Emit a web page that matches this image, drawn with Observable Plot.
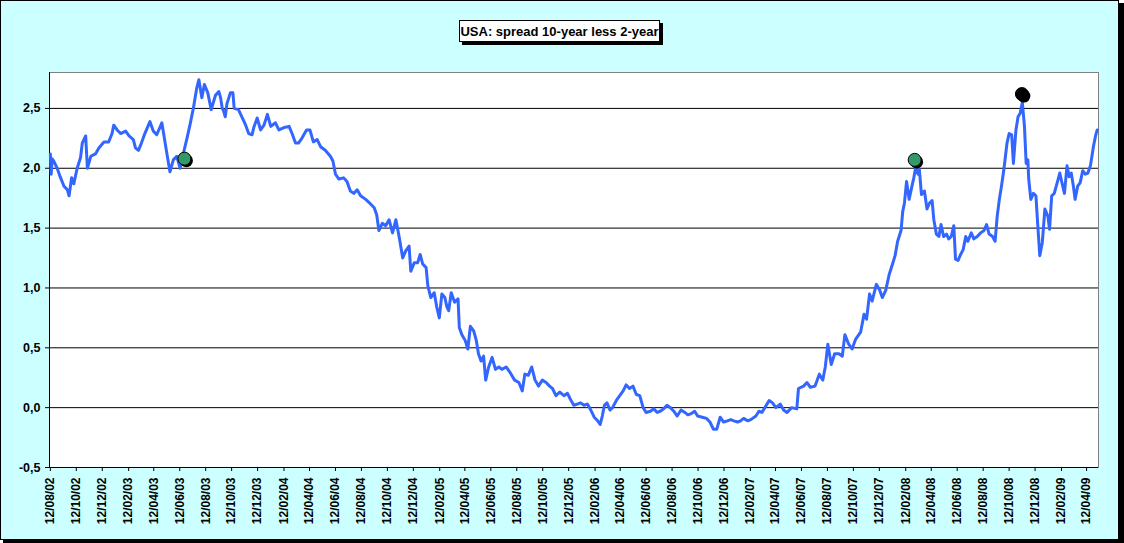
<!DOCTYPE html>
<html><head><meta charset="utf-8">
<script src="https://cdn.jsdelivr.net/npm/d3@7"></script>
<script src="https://cdn.jsdelivr.net/npm/@observablehq/plot@0.6"></script>
<style>html,body{margin:0;padding:0;background:#fff;} #chart{width:1124px;height:543px;overflow:hidden;}</style>
</head><body><div id="chart"></div>
<script>
const title = "USA: spread 10-year less 2-year";

const dates = [
"2002-08-12","2002-08-14","2002-08-16","2002-08-20","2002-08-28","2002-09-04","2002-09-13","2002-09-21","2002-09-25","2002-10-01",
"2002-10-06","2002-10-14","2002-10-22","2002-10-26","2002-11-03","2002-11-07","2002-11-15","2002-11-26","2002-12-04","2002-12-16",
"2002-12-27","2003-01-04","2003-01-08","2003-01-16","2003-01-24","2003-02-05","2003-02-13","2003-02-23","2003-02-28","2003-03-07",
"2003-03-14","2003-03-22","2003-04-03","2003-04-11","2003-04-19","2003-05-01","2003-05-07","2003-05-12","2003-05-20","2003-05-28",
"2003-06-05","2003-06-13","2003-06-21","2003-06-29","2003-07-06","2003-07-14","2003-07-22","2003-07-27","2003-08-03","2003-08-09",
"2003-08-17","2003-08-25","2003-09-04","2003-09-12","2003-09-16","2003-09-20","2003-09-23","2003-09-27","2003-10-01","2003-10-09",
"2003-10-15","2003-10-18","2003-10-28","2003-11-05","2003-11-14","2003-11-21","2003-11-29","2003-12-03","2003-12-11","2003-12-19",
"2003-12-27","2004-01-04","2004-01-12","2004-01-23","2004-01-31","2004-02-12","2004-02-24","2004-03-02","2004-03-10","2004-03-17",
"2004-03-25","2004-04-05","2004-04-13","2004-04-21","2004-04-30","2004-05-08","2004-05-19","2004-05-31","2004-06-06","2004-06-12",
"2004-06-20","2004-07-01","2004-07-09","2004-07-17","2004-07-25","2004-08-02","2004-08-10","2004-08-22","2004-09-03","2004-09-11",
"2004-09-17","2004-09-22","2004-09-30","2004-10-08","2004-10-16","2004-10-24","2004-11-01","2004-11-09","2004-11-17","2004-11-24",
"2004-12-02","2004-12-06","2004-12-14","2004-12-22","2004-12-28","2005-01-03","2005-01-11","2005-01-15","2005-01-22","2005-01-30",
"2005-02-05","2005-02-11","2005-02-17","2005-02-24","2005-03-01","2005-03-05","2005-03-11","2005-03-19","2005-03-27","2005-03-30",
"2005-04-05","2005-04-13","2005-04-19","2005-04-25","2005-05-03","2005-05-09","2005-05-14","2005-05-20","2005-05-26","2005-05-31",
"2005-06-07","2005-06-15","2005-06-23","2005-07-01","2005-07-08","2005-07-18","2005-07-28","2005-08-07","2005-08-17","2005-08-25",
"2005-08-31","2005-09-08","2005-09-16","2005-09-24","2005-10-02","2005-10-11","2005-10-20","2005-10-28","2005-11-04","2005-11-12",
"2005-11-21","2005-12-01","2005-12-09","2005-12-16","2005-12-24","2006-01-01","2006-01-09","2006-01-17","2006-01-25","2006-02-02",
"2006-02-10","2006-02-18","2006-02-24","2006-03-01","2006-03-06","2006-03-12","2006-03-19","2006-03-25","2006-04-03","2006-04-11",
"2006-04-19","2006-04-26","2006-05-04","2006-05-12","2006-05-20","2006-05-28","2006-06-05","2006-06-12","2006-06-22","2006-06-30",
"2006-07-08","2006-07-15","2006-07-23","2006-07-31","2006-08-08","2006-08-16","2006-08-24","2006-09-02","2006-09-11","2006-09-18",
"2006-09-26","2006-10-04","2006-10-11","2006-10-22","2006-11-01","2006-11-09","2006-11-17","2006-11-25","2006-12-03","2006-12-11",
"2006-12-20","2006-12-28","2007-01-04","2007-01-13","2007-01-20","2007-01-27","2007-02-06","2007-02-13","2007-02-25","2007-03-04",
"2007-03-11","2007-03-18","2007-03-28","2007-04-05","2007-04-13","2007-04-23","2007-05-01","2007-05-09","2007-05-20","2007-06-01",
"2007-06-05","2007-06-17","2007-06-25","2007-07-03","2007-07-14","2007-07-24","2007-08-01","2007-08-07","2007-08-13","2007-08-21",
"2007-08-29","2007-09-08","2007-09-16","2007-09-22","2007-10-01","2007-10-09","2007-10-17","2007-10-29","2007-11-06","2007-11-12",
"2007-11-19","2007-11-25","2007-12-05","2007-12-13","2007-12-19","2007-12-27","2008-01-04","2008-01-12","2008-01-18","2008-01-24",
"2008-02-01","2008-02-05","2008-02-09","2008-02-14","2008-02-20","2008-02-26","2008-03-02","2008-03-06","2008-03-12","2008-03-15",
"2008-03-20","2008-03-27","2008-04-02","2008-04-08","2008-04-14","2008-04-18","2008-04-24","2008-04-30","2008-05-05","2008-05-11",
"2008-05-18","2008-05-23","2008-05-29","2008-06-04","2008-06-08","2008-06-14","2008-06-20","2008-06-26","2008-07-02","2008-07-07",
"2008-07-15","2008-07-21","2008-07-29","2008-08-06","2008-08-14","2008-08-20","2008-08-26","2008-09-03","2008-09-09","2008-09-14",
"2008-09-19","2008-09-24","2008-09-30","2008-10-07","2008-10-12","2008-10-18","2008-10-22","2008-10-28","2008-11-02","2008-11-07",
"2008-11-12","2008-11-17","2008-11-21","2008-11-25","2008-11-27","2008-12-02","2008-12-08","2008-12-14","2008-12-18","2008-12-23",
"2008-12-29","2009-01-04","2009-01-11","2009-01-15","2009-01-20","2009-01-26","2009-02-02","2009-02-08","2009-02-13","2009-02-19",
"2009-02-25","2009-03-02","2009-03-07","2009-03-12","2009-03-16","2009-03-22","2009-03-28","2009-04-03","2009-04-09","2009-04-15",
"2009-04-21","2009-04-28","2009-05-03","2009-05-07"
];

const spread = [
2.12,1.95,2.08,2.06,2.00,1.93,1.85,1.82,1.77,1.92,
1.87,2.00,2.09,2.21,2.27,2.00,2.10,2.12,2.17,2.22,
2.22,2.29,2.36,2.32,2.29,2.31,2.27,2.24,2.17,2.15,
2.21,2.29,2.39,2.31,2.28,2.38,2.25,2.14,1.97,2.07,
2.10,2.00,2.13,2.25,2.36,2.50,2.67,2.74,2.59,2.70,
2.63,2.49,2.61,2.64,2.59,2.50,2.48,2.43,2.54,2.63,
2.63,2.50,2.49,2.43,2.36,2.29,2.28,2.34,2.42,2.32,
2.36,2.45,2.35,2.38,2.32,2.34,2.35,2.29,2.21,2.21,
2.25,2.32,2.32,2.22,2.24,2.18,2.15,2.10,2.06,1.95,
1.91,1.92,1.89,1.81,1.79,1.82,1.77,1.74,1.70,1.67,
1.61,1.48,1.54,1.52,1.57,1.46,1.57,1.42,1.25,1.31,
1.35,1.14,1.21,1.21,1.28,1.20,1.17,1.02,0.92,0.96,
0.84,0.75,0.95,0.92,0.84,0.81,0.96,0.88,0.91,0.67,
0.61,0.56,0.49,0.68,0.64,0.56,0.45,0.39,0.43,0.23,
0.34,0.42,0.32,0.34,0.32,0.34,0.29,0.23,0.21,0.14,
0.28,0.27,0.34,0.23,0.18,0.23,0.21,0.18,0.16,0.10,
0.13,0.10,0.12,0.07,0.02,0.03,0.04,0.02,0.03,-0.02,
-0.08,-0.11,-0.14,-0.07,0.02,0.04,-0.02,0.00,0.06,0.10,
0.14,0.19,0.16,0.18,0.11,0.10,0.00,-0.04,-0.03,-0.01,
-0.04,-0.03,-0.01,0.02,0.00,-0.03,-0.07,-0.02,-0.04,-0.06,
-0.05,-0.03,-0.07,-0.08,-0.09,-0.12,-0.18,-0.18,-0.08,-0.12,
-0.11,-0.10,-0.11,-0.12,-0.11,-0.09,-0.11,-0.10,-0.07,-0.03,
-0.04,0.00,0.06,0.04,0.00,0.03,-0.02,-0.04,0.00,-0.01,
0.16,0.18,0.21,0.17,0.18,0.28,0.23,0.34,0.53,0.36,
0.45,0.45,0.43,0.61,0.53,0.49,0.57,0.63,0.78,0.74,
0.95,0.89,1.03,0.98,0.92,0.98,1.11,1.20,1.27,1.39,
1.48,1.64,1.71,1.89,1.74,1.84,1.92,2.00,1.95,1.99,
1.78,1.81,1.66,1.71,1.73,1.57,1.45,1.43,1.53,1.43,
1.45,1.41,1.43,1.52,1.24,1.23,1.28,1.32,1.43,1.39,
1.46,1.41,1.43,1.46,1.48,1.53,1.45,1.43,1.39,1.60,
1.74,1.85,2.00,2.21,2.29,2.28,2.04,2.32,2.43,2.46,
2.55,2.35,2.04,2.07,1.91,1.74,1.79,1.77,1.54,1.27,
1.38,1.66,1.60,1.49,1.77,1.79,1.88,1.96,1.88,1.79,
2.02,1.93,1.96,1.85,1.74,1.85,1.88,1.98,1.95,1.96,
2.02,2.18,2.27,2.32
];

const markerDates = ["2003-06-23", "2008-03-04", "2008-11-11"];
const markerValues = [2.08, 2.07, 2.62];
const markerFills = ["#339966", "#339966", "#000000"];

const tickLabels = [
"12/08/02","12/10/02","12/12/02",
"12/02/03","12/04/03","12/06/03","12/08/03","12/10/03","12/12/03",
"12/02/04","12/04/04","12/06/04","12/08/04","12/10/04","12/12/04",
"12/02/05","12/04/05","12/06/05","12/08/05","12/10/05","12/12/05",
"12/02/06","12/04/06","12/06/06","12/08/06","12/10/06","12/12/06",
"12/02/07","12/04/07","12/06/07","12/08/07","12/10/07","12/12/07",
"12/02/08","12/04/08","12/06/08","12/08/08","12/10/08","12/12/08",
"12/02/09","12/04/09"
];
const yTicks = [-0.5, 0, 0.5, 1, 1.5, 2, 2.5];
const xDomain = ["2002-08-10", "2009-05-10"];
const yDomain = [-0.5, 2.8];

const parseISO = d3.utcParse("%Y-%m-%d");
const parseTick = d3.utcParse("%d/%m/%y");
const series = dates.map((d, i) => ({date: parseISO(d), value: spread[i]}));
const markers = markerDates.map((d, i) => ({date: parseISO(d), value: markerValues[i], fill: markerFills[i]}));
const xTicks = tickLabels.map(parseTick);
const fmtComma = v => v.toFixed(1).replace(".", ",");
const FONT = "'Liberation Sans', Arial, Helvetica, sans-serif";

const chart = Plot.plot({
  width: 1124, height: 543,
  marginLeft: 49, marginRight: 26, marginTop: 72, marginBottom: 76,
  style: {background: "transparent", fontFamily: FONT, fontSize: "12px", fontWeight: "bold", color: "#000", overflow: "visible"},
  x: {type: "utc", domain: xDomain.map(parseISO), label: null},
  y: {domain: yDomain, label: null},
  color: {type: "identity"},
  marks: [
    Plot.frame({fill: "white", stroke: "none"}),
    Plot.ruleY(yTicks, {stroke: "black", strokeWidth: 1}),
    Plot.frame({stroke: "#808080", strokeWidth: 1}),
    Plot.ruleX(xDomain.slice(0, 1).map(parseISO), {stroke: "black", strokeWidth: 1}),
    Plot.ruleY(yDomain.slice(0, 1), {stroke: "black", strokeWidth: 1}),
    Plot.axisY({ticks: yTicks, tickFormat: fmtComma, tickSize: 4, tickPadding: 5, label: null, fontWeight: "bold", fontSize: 12.5}),
    Plot.axisX({ticks: xTicks, tickFormat: d3.utcFormat("%d/%m/%y"), tickRotate: -90, tickSize: 4, tickPadding: 6, label: null, fontWeight: "bold", fontSize: 12}),
    Plot.lineY(series, {x: "date", y: "value", stroke: "#3366FF", strokeWidth: 3, strokeLinejoin: "round"}),
    Plot.dot(markers, {x: "date", y: "value", r: 6.5, fill: "black", dx: 2, dy: 2}),
    Plot.dot(markers, {x: "date", y: "value", r: 6.5, fill: "fill", stroke: "black", strokeWidth: 1})
  ]
});

const svg = d3.select(chart);
// chart background (cyan with black border and drop shadow)
svg.insert("rect", ":first-child")
  .attr("x", 0.5).attr("y", 0.5).attr("width", 1118).attr("height", 539)
  .attr("fill", "#CCFFFF").attr("stroke", "black").attr("stroke-width", 1);
svg.insert("rect", ":first-child")
  .attr("x", 3).attr("y", 3).attr("width", 1121).attr("height", 540)
  .attr("fill", "black");

// title box
const tg = svg.append("g");
tg.append("rect").attr("x", 462).attr("y", 23).attr("width", 201).attr("height", 22).attr("fill", "black");
tg.append("rect").attr("x", 459.5).attr("y", 20.5).attr("width", 200).attr("height", 21)
  .attr("fill", "white").attr("stroke", "black").attr("stroke-width", 1);
tg.append("text").attr("x", 559.5).attr("y", 35.5)
  .attr("text-anchor", "middle")
  .style("font-family", FONT).style("font-size", "13px").style("font-weight", "bold")
  .attr("fill", "black")
  .text(title);

document.getElementById("chart").appendChild(chart);
</script>
</body></html>
